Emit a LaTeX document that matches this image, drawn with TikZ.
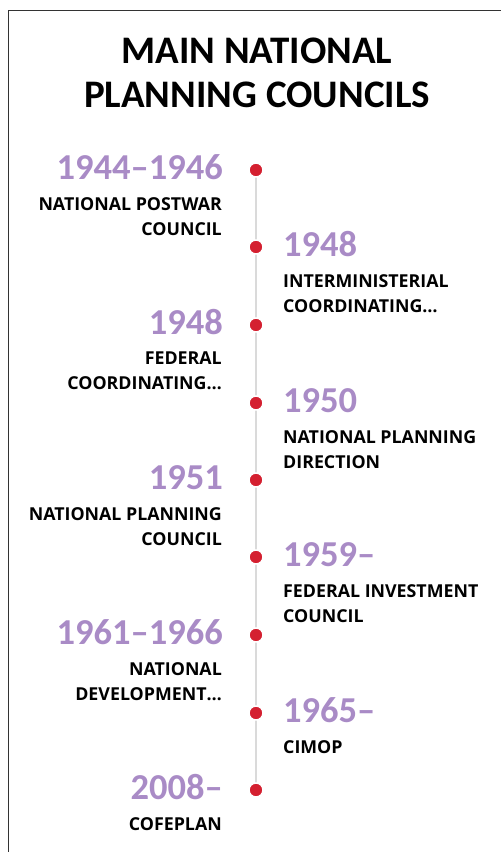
\documentclass[tikz,border=0pt]{standalone}
\usepackage{fontspec}
\setmainfont{Carlito}
\newfontfamily\labelfont{Open Sans}
\definecolor{yearpurple}{HTML}{A98BC6}
\definecolor{dotred}{HTML}{D42030}
\definecolor{linegrey}{HTML}{DADADA}
\definecolor{framegrey}{HTML}{333333}
\tikzset{
  titletext/.style={anchor=base, inner sep=0pt, font=\fontsize{39}{44}\selectfont\bfseries},
  yeartext/.style={inner sep=0pt, text=yearpurple, font=\fontsize{36.5}{40}\selectfont\bfseries},
  labeltext/.style={inner sep=0pt, font=\labelfont\fontsize{17.8}{25}\selectfont\bfseries},
  dotnode/.style={circle, fill=dotred, draw=white, line width=1.5pt, minimum size=14pt, inner sep=0pt},
  spine/.style={linegrey, line width=1.8pt},
  frameline/.style={framegrey, line width=1.3pt}
}
\begin{document}
\begin{tikzpicture}[x=1pt,y=-1pt]
\useasboundingbox (0,0) rectangle (501,852);
\draw[frameline] (8.5,852) -- (8.5,10.5) -- (501,10.5);
\node[titletext] (t1) at (257,63) {MAIN NATIONAL};
\node[titletext] (t2) at (257,107) {PLANNING COUNCILS};
% dot positions
\foreach \i/\y in {1/170,2/247,3/325,4/403,5/480,6/557,7/635,8/713,9/790}
  \coordinate (c\i) at (256,\y);
\draw[spine] (c1) -- (c9);
\foreach \i in {1,...,9}
  \node[dotnode] (d\i) at (c\i) {};
% left items
\foreach \i/\yr/\lab in {1/1944--1946/{NATIONAL POSTWAR\\COUNCIL},3/1948/{FEDERAL\\COORDINATING…},5/1951/{NATIONAL PLANNING\\COUNCIL},7/1961--1966/{NATIONAL\\DEVELOPMENT…},9/2008--/{COFEPLAN}}{
  \node[yeartext, anchor=base east] (y\i) at ([shift={(-33,9)}]c\i) {\yr};
  \node[labeltext, anchor=north east, align=right] (l\i) at ([shift={(-34,27)}]c\i) {\lab};
}
% right items
\foreach \i/\yr/\lab in {2/1948/{INTERMINISTERIAL\\COORDINATING…},4/1950/{NATIONAL PLANNING\\DIRECTION},6/1959--/{FEDERAL INVESTMENT\\COUNCIL},8/1965--/{CIMOP}}{
  \node[yeartext, anchor=base west] (y\i) at ([shift={(27,9)}]c\i) {\yr};
  \node[labeltext, anchor=north west, align=left] (l\i) at ([shift={(27,27)}]c\i) {\lab};
}
\end{tikzpicture}
\end{document}
